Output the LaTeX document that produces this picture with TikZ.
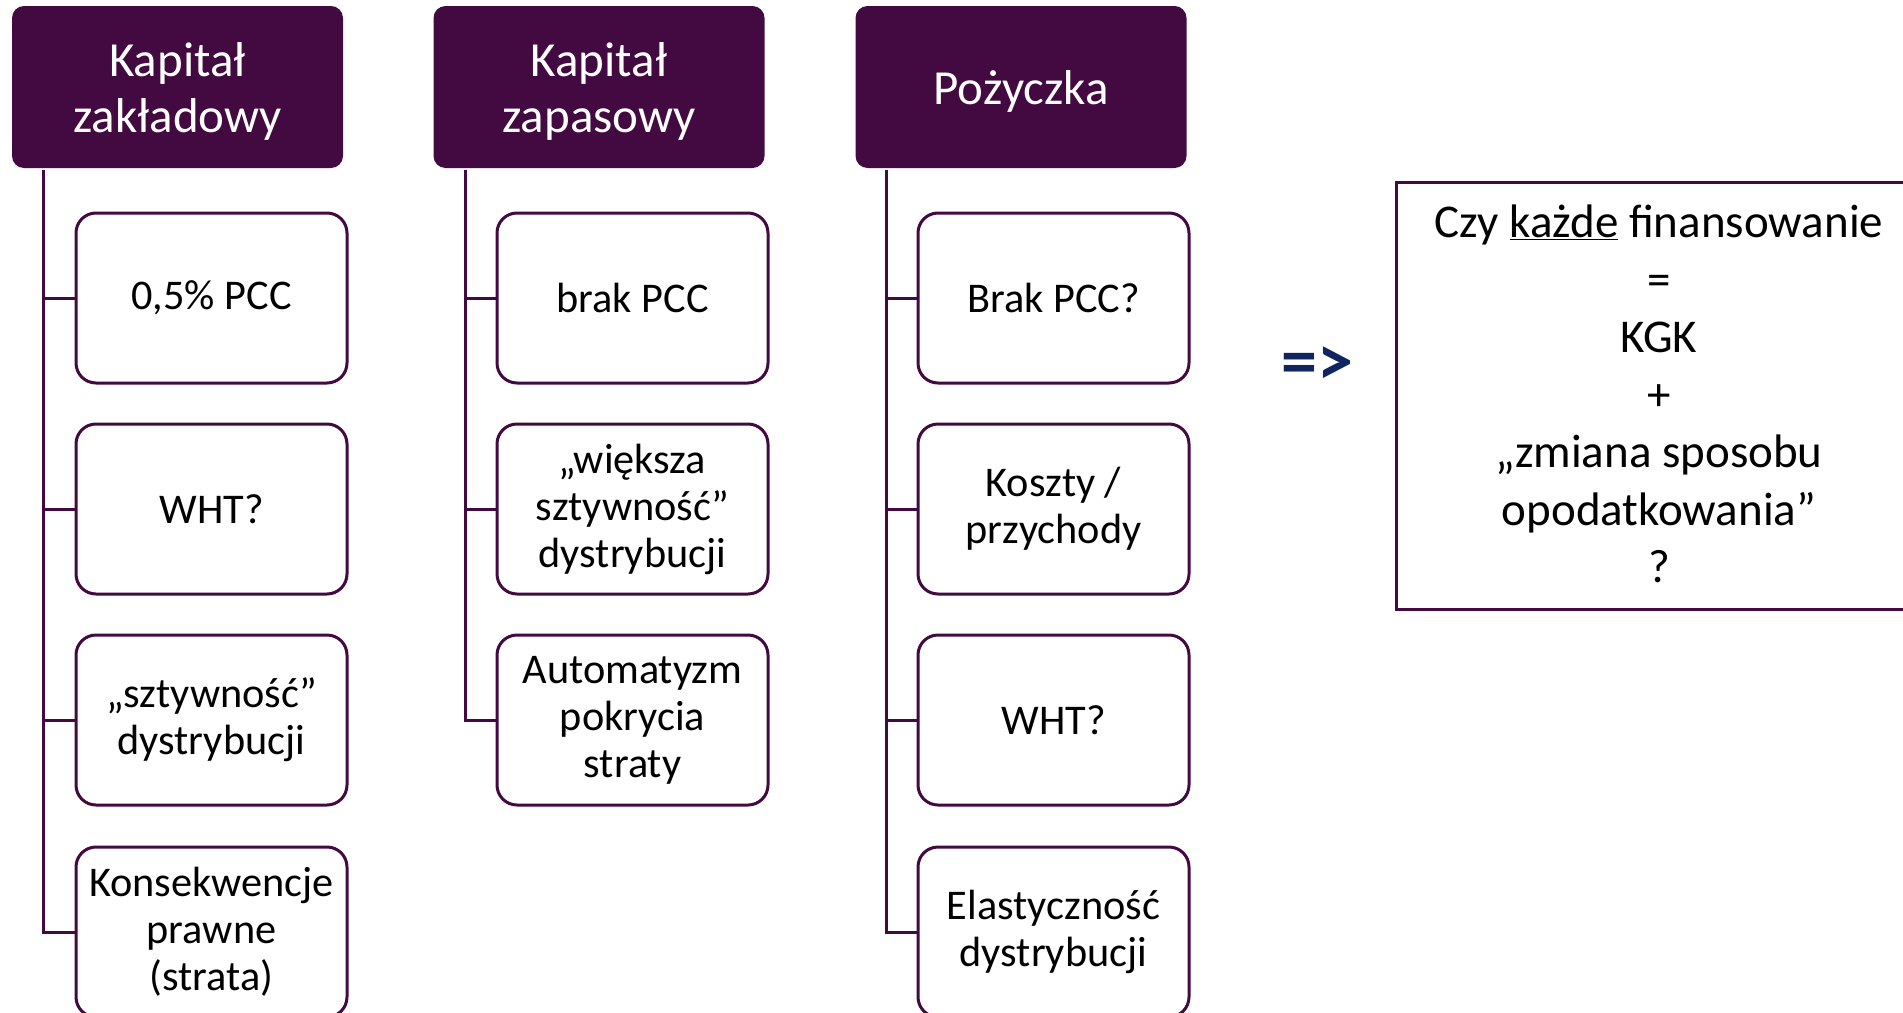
\documentclass[tikz,border=0pt]{standalone}
\usepackage{fontspec}
\setmainfont{Carlito}
\definecolor{plum}{RGB}{66,10,64}
\definecolor{navy}{RGB}{16,36,96}
\begin{document}
\begin{tikzpicture}[x=1pt,y=-1pt,
  head/.style={rectangle, rounded corners=12pt, fill=plum, draw=none,
    minimum width=331pt, minimum height=162pt, inner sep=0pt, text=white,
    align=center, font=\fontsize{49}{56}\selectfont},
  headtext/.style={text=white, align=center, font=\fontsize{49}{56}\selectfont},
  item/.style={rectangle, rounded corners=20pt, draw=plum, line width=3pt,
    fill=white, minimum width=271pt, minimum height=170pt, inner sep=0pt,
    align=center, text=black, font=\fontsize{42.3}{47}\selectfont},
  conn/.style={draw=plum, line width=3pt}]
\useasboundingbox (0,0) rectangle (1903,1012);
\clip (0,0) rectangle (1903,1012);

% headers
\node[head] (h1) at (177.5,87) {};
\node[head] (h2) at (599,87) {};
\node[head] (h3) at (1021,87) {};
\node[headtext] (t1) at (177.5,91) {Kapitał\\zakładowy};
\node[headtext] (t2) at (599,91) {Kapitał\\zapasowy};
\node[headtext] (t3) at (1021,91) {Pożyczka};

% spine coordinates
\coordinate (v1) at (43,170);
\coordinate (v2) at (465,170);
\coordinate (v3) at (886,170);

% column 1
\node[item] (a1) at (211.5,298) {0,5\% PCC};
\node[item] (a2) at (211.5,509) {WHT?};
\node[item] (a3) at (211.5,720) {„sztywność”\\dystrybucji};
\node[item] (a4) at (211.5,932) {Konsekwencje\\prawne\\(strata)};

% column 2
\node[item] (b1) at (632.5,298) {brak PCC};
\node[item] (b2) at (632.5,509) {„większa\\sztywność”\\dystrybucji};
\node[item] (b3) at (632.5,720) {Automatyzm\\pokrycia\\straty};

% column 3
\node[item] (c1) at (1053.5,298) {Brak PCC?};
\node[item] (c2) at (1053.5,509) {Koszty /\\przychody};
\node[item] (c3) at (1053.5,720) {WHT?};
\node[item] (c4) at (1053.5,932) {Elastyczność\\dystrybucji};

% connectors
\draw[conn] (v1) |- (a4.west);
\foreach \n in {a1,a2,a3} \draw[conn] (\n.west) -- (\n.west -| v1);
\draw[conn] (v2) |- (b3.west);
\foreach \n in {b1,b2} \draw[conn] (\n.west) -- (\n.west -| v2);
\draw[conn] (v3) |- (c4.west);
\foreach \n in {c1,c2,c3} \draw[conn] (\n.west) -- (\n.west -| v3);

% arrow text
\node[text=navy, font=\fontsize{72}{76}\selectfont\bfseries] (arr) at (1317,366) {=>};

% question box
\draw[draw=plum, line width=3pt] (1396,182) rectangle (1930,609);
\node[align=center, font=\fontsize{47}{57.5}\selectfont] (q) at (1659,394)
  {Czy \underline{każde} finansowanie\\=\\KGK\\+\\„zmiana sposobu\\opodatkowania”\\?};
\end{tikzpicture}
\end{document}
